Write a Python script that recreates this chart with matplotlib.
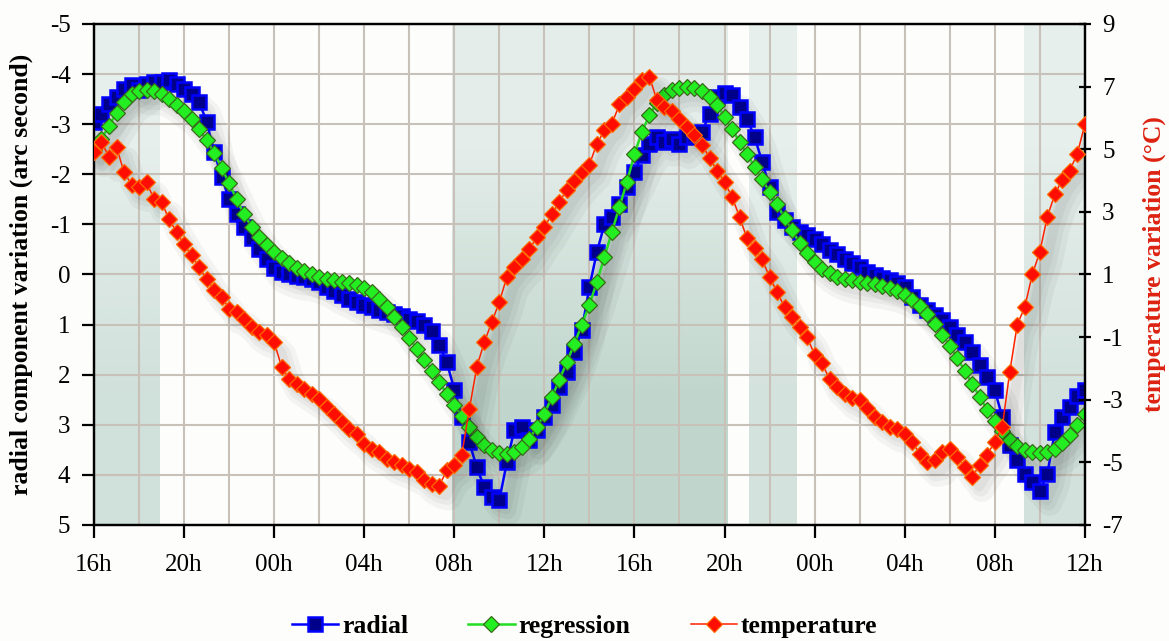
import numpy as np
import matplotlib.pyplot as plt
import matplotlib.transforms as mtransforms
from matplotlib.colors import LinearSegmentedColormap
from matplotlib.ticker import MultipleLocator

plt.rcParams['font.family'] = ['Liberation Serif', 'DejaVu Serif']
plt.rcParams['axes.unicode_minus'] = False

# readings every 20 minutes, starting at 16h on day 1
radial = [
    -3.05, -3.2, -3.4, -3.55, -3.7, -3.78, -3.68, -3.8, -3.85, -3.85, -3.88, -3.8,
    -3.7, -3.6, -3.45, -3.05, -2.45, -1.95, -1.5, -1.2, -0.95, -0.72, -0.5, -0.3,
    -0.12, -0.05, 0.0, 0.03, 0.05, 0.1, 0.15, 0.25, 0.33, 0.4, 0.48, 0.55,
    0.6, 0.65, 0.7, 0.75, 0.78, 0.82, 0.88, 0.92, 1.0, 1.12, 1.4, 1.75,
    2.3, 2.85, 3.35, 3.85, 4.25, 4.45, 4.5, 3.75, 3.1, 3.05, 3.3, 3.1,
    2.85, 2.6, 2.25, 1.95, 1.55, 1.1, 0.25, -0.45, -1.0, -1.15, -1.4, -1.75,
    -2.05, -2.38, -2.6, -2.75, -2.65, -2.7, -2.6, -2.75, -2.78, -2.85, -3.2, -3.55,
    -3.62, -3.58, -3.35, -3.1, -2.75, -2.25, -1.75, -1.25, -1.08, -0.95, -0.85, -0.78,
    -0.7, -0.6, -0.48, -0.4, -0.3, -0.22, -0.15, -0.05, 0.02, 0.08, 0.12, 0.18,
    0.25, 0.45, 0.6, 0.7, 0.8, 0.9, 1.05, 1.2, 1.35, 1.55, 1.8, 2.05,
    2.3, 2.85, 3.4, 3.7, 3.98, 4.15, 4.32, 3.98, 3.15, 2.85, 2.65, 2.42,
    2.3,
]

regression = [
    -2.48, -2.7, -2.97, -3.22, -3.45, -3.6, -3.66, -3.68, -3.67, -3.6, -3.5, -3.38,
    -3.27, -3.1, -2.9, -2.68, -2.43, -2.13, -1.82, -1.5, -1.2, -0.95, -0.75, -0.58,
    -0.45, -0.33, -0.22, -0.13, -0.06, 0.0, 0.05, 0.09, 0.12, 0.15, 0.18, 0.21,
    0.26, 0.35, 0.48, 0.65, 0.85, 1.05, 1.27, 1.48, 1.7, 1.92, 2.15, 2.38,
    2.6, 2.83, 3.05, 3.25, 3.4, 3.5, 3.56, 3.58, 3.55, 3.45, 3.28, 3.05,
    2.78, 2.45, 2.1, 1.75, 1.38, 1.0, 0.6, 0.15, -0.35, -0.85, -1.35, -1.85,
    -2.4, -2.85, -3.18, -3.42, -3.58, -3.68, -3.73, -3.74, -3.72, -3.66, -3.55, -3.38,
    -3.15, -2.9, -2.65, -2.4, -2.15, -1.9, -1.65, -1.4, -1.13, -0.88, -0.63, -0.42,
    -0.24, -0.11, -0.02, 0.05, 0.09, 0.12, 0.15, 0.18, 0.2, 0.23, 0.27, 0.32,
    0.4, 0.5, 0.62, 0.78, 0.98, 1.2, 1.42, 1.67, 1.92, 2.18, 2.45, 2.7,
    2.92, 3.12, 3.3, 3.42, 3.5, 3.55, 3.57, 3.55, 3.48, 3.36, 3.2, 3.0,
    2.78,
]

temperature = [
    4.91, 5.23, 4.75, 5.07, 4.27, 3.87, 3.79, 3.95, 3.40, 3.32, 2.76, 2.36,
    1.96, 1.61, 1.24, 0.84, 0.52, 0.28, -0.09, -0.20, -0.41, -0.68, -0.84, -0.92,
    -1.16, -1.95, -2.35, -2.51, -2.67, -2.83, -2.99, -3.23, -3.44, -3.71, -3.92, -4.11,
    -4.40, -4.56, -4.67, -4.88, -4.99, -5.07, -5.20, -5.31, -5.55, -5.68, -5.74, -5.26,
    -5.07, -4.75, -3.31, -1.95, -1.16, -0.52, 0.12, 0.92, 1.24, 1.48, 1.80, 2.20,
    2.52, 2.92, 3.32, 3.71, 4.00, 4.27, 4.51, 5.18, 5.60, 5.82, 6.43, 6.67,
    6.91, 7.20, 7.31, 6.56, 6.35, 6.22, 5.98, 5.71, 5.44, 5.15, 4.72, 4.32,
    3.95, 3.48, 2.84, 2.15, 1.83, 1.48, 0.92, 0.44, -0.04, -0.36, -0.68, -1.00,
    -1.56, -1.84, -2.35, -2.59, -2.83, -2.96, -3.02, -3.28, -3.55, -3.71, -3.87, -3.92,
    -4.11, -4.35, -4.72, -4.99, -4.94, -4.67, -4.56, -4.83, -5.15, -5.47, -5.07, -4.75,
    -4.35, -3.87, -2.11, -0.60, -0.04, 1.00, 1.72, 2.84, 3.56, 4.03, 4.32, 4.86,
    5.79,
]

hour_labels = ['16h', '20h', '00h', '04h', '08h', '12h',
               '16h', '20h', '00h', '04h', '08h', '12h']

# shaded periods (hours after the first 16h) and their top / bottom colours
shade_spans = [(0, 2.9), (15.9, 28.15), (29.1, 31.2), (41.3, 44)]
shade_colors = [('#e6efec', '#d0e0da'), ('#e4edea', '#c0d6cc'),
                ('#e6efec', '#d4e2dd'), ('#e6efec', '#d2e1dc')]

hours = np.arange(len(radial)) / 3.0

fig = plt.figure(figsize=(11.69, 6.41), dpi=100, facecolor='#fdfdfb')
ax = fig.add_axes([0.0804, 0.181, 0.8476, 0.7816])
ax.set_facecolor('#fdfdfb')
ax2 = ax.twinx()

for (x0, x1), (c_top, c_bot) in zip(shade_spans, shade_colors):
    cmap = LinearSegmentedColormap.from_list('shade', [c_top, c_bot])
    ax.imshow(np.array([[0.0], [1.0]]), cmap=cmap, aspect='auto',
              extent=(x0, x1, -5, 5), origin='lower',
              interpolation='bilinear', zorder=0)

ax.set_xlim(0, 44)
ax.set_ylim(5, -5)
ax2.set_ylim(-7, 9)

ax.set_xticks(np.arange(0, 45, 4))
ax.set_xticklabels(hour_labels)
ax.xaxis.set_minor_locator(MultipleLocator(2))
ax.set_yticks(np.arange(-5, 6, 1))
ax2.set_yticks(np.arange(-7, 10, 2))
ax.grid(which='both', color='#c8c1ba', lw=1.5, zorder=1)
ax.set_axisbelow(True)

# soft drop shadows, down and to the right
def shadow(axis, y):
    for dx, dy, lw in [(7, -9, 18), (6, -8, 12), (5, -7, 7)]:
        tr = mtransforms.offset_copy(axis.transData, fig=fig, x=dx, y=dy, units='points')
        axis.plot(hours, y, color='black', alpha=0.04, lw=lw, transform=tr,
                  solid_capstyle='round', solid_joinstyle='round', zorder=2)

shadow(ax, radial)
shadow(ax, regression)
shadow(ax2, temperature)

l_rad, = ax.plot(hours, radial, color='#0000ff', lw=1.8, marker='s', ms=10,
                 mfc='#00008b', mec='#0000ff', mew=1.8, zorder=3, label='radial')
l_reg, = ax.plot(hours, regression, color='#22dd22', lw=1.8, marker='D', ms=8.5,
                 mfc='#22ee22', mec='#3a6a1a', mew=0.9, zorder=4, label='regression')
l_tmp, = ax2.plot(hours, temperature, color='#ff2200', lw=1.1, marker='D', ms=8.5,
                  mfc='#ff0d00', mec='#ff6a00', mew=0.9, zorder=3, label='temperature')

for side in ['left', 'right', 'top', 'bottom']:
    ax.spines[side].set_linewidth(1.6)
    ax2.spines[side].set_linewidth(1.6)

ax.tick_params(axis='both', which='major', labelsize=18, width=1.6, length=9, direction='out')
ax.tick_params(axis='x', which='major', pad=12)
ax.tick_params(axis='y', which='major', pad=8)
ax.tick_params(which='minor', length=0)
ax2.tick_params(axis='y', labelsize=18, width=1.6, length=9, direction='inout', pad=8)

ax.set_ylabel('radial component variation (arc second)', fontsize=18.5, fontweight='bold')
ax.yaxis.set_label_coords(-0.062, 0.5)
ax2.set_ylabel('temperature variation (°C)', fontsize=18.5, fontweight='bold', color='#dd2211')
ax2.yaxis.set_label_coords(1.058, 0.52)

fig.legend([l_rad, l_reg, l_tmp], ['radial', 'regression', 'temperature'],
           loc='center', bbox_to_anchor=(0.5, 0.022), ncol=3, frameon=False,
           prop={'weight': 'bold', 'size': 18.5}, handlelength=1.8,
           handletextpad=0.15, columnspacing=2.35)

fig.savefig('out.png', dpi=100, facecolor=fig.get_facecolor())
